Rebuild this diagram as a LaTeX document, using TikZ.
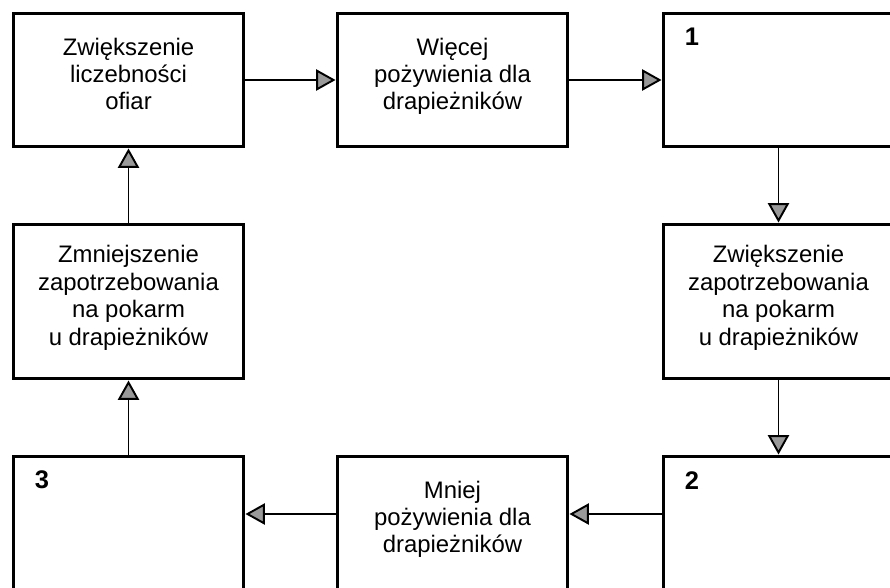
\documentclass[tikz,border=0pt]{standalone}
\usepackage{fontspec}
\setmainfont{Liberation Sans}
\usetikzlibrary{arrows.meta,positioning}

\begin{document}
\begin{tikzpicture}[x=0.02cm,y=-0.02cm,
  box/.style={draw,line width=1.7pt,minimum width=4.62cm,minimum height=2.68cm,
    align=center,inner sep=0pt,text depth=7pt,font=\fontsize{13.6}{15.6}\selectfont},
  tall/.style={box,minimum height=3.1cm},
  nr/.style={inner sep=0pt,font=\fontsize{14.5}{16}\selectfont\bfseries},
  arr/.style={line width=1.1pt,-{Triangle[length=11pt,width=12pt,fill=gray!80]}}]
\clip (0,0) rectangle (890,588);
% top row
\node[box] (zwlicz) at (128.5,80) {Zwiększenie\\liczebności\\ofiar};
\node[box] (wiecej) at (452.5,80) {Więcej\\pożywienia dla\\drapieżników};
\node[box] (one) at (778.5,80) {};
% middle row
\node[tall] (zmniej) at (128.5,301.5) {Zmniejszenie\\zapotrzebowania\\na pokarm\\u drapieżników};
\node[tall] (zwzap) at (778.5,301.5) {Zwiększenie\\zapotrzebowania\\na pokarm\\u drapieżników};
% bottom row
\node[box] (three) at (128.5,523) {};
\node[box] (mniej) at (452.5,523) {Mniej\\pożywienia dla\\drapieżników};
\node[box] (two) at (778.5,523) {};
% numbers
\node[nr,below right=0.32cm and 0.46cm of one.north west] (n1) {1};
\node[nr,below right=0.34cm and 0.46cm of two.north west] (n2) {2};
\node[nr,below right=0.32cm and 0.46cm of three.north west] (n3) {3};
% arrows
\draw[arr] (zwlicz) -- (wiecej);
\draw[arr] (wiecej) -- (one);
\draw[arr] (one) -- (zwzap);
\draw[arr] (zwzap) -- (two);
\draw[arr] ([yshift=0.18cm]two.west) -- ([yshift=0.18cm]mniej.east);
\draw[arr] ([yshift=0.18cm]mniej.west) -- ([yshift=0.18cm]three.east);
\draw[arr] (three) -- (zmniej);
\draw[arr] (zmniej) -- (zwlicz);
\end{tikzpicture}
\end{document}
